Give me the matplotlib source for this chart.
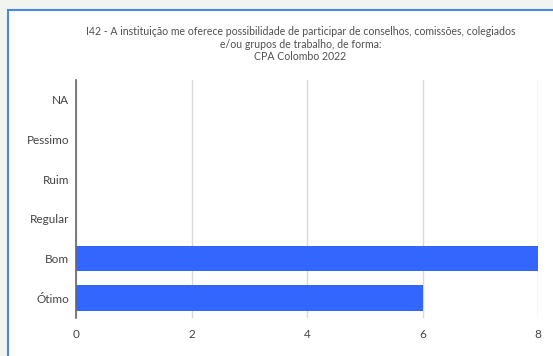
import matplotlib
matplotlib.use("Agg")
import matplotlib.pyplot as plt
from matplotlib.patches import Rectangle

categories = ["NA", "Pessimo", "Ruim", "Regular", "Bom", "Ótimo"]
values = [0, 0, 0, 0, 8, 6]
xticks = [0, 2, 4, 6, 8]
title = ("I42 - A instituição me oferece possibilidade de participar de conselhos, comissões, colegiados\n"
         "e/ou grupos de trabalho, de forma:\nCPA Colombo 2022")

plt.rcParams['font.family'] = ['Lato', 'DejaVu Sans']
W, H = 553, 356
fig = plt.figure(figsize=(W/100, H/100), dpi=100, facecolor="#f2f5ef")

# white chart card with blue border
card = Rectangle((8/W, -0.1), 1.2, 1 - 10/H + 0.1, transform=fig.transFigure,
                 facecolor="white", edgecolor="#4a86e8", linewidth=1.5, zorder=-5)
fig.patches.append(card)

ax = fig.add_axes([76/W, 1 - 318/H, (538-76)/W, (318-80)/H])
ax.set_zorder(2)
ax.set_facecolor("none")
y = list(range(len(categories)))[::-1]
ax.barh(y, values, height=0.65, color="#3366ff", zorder=3)
ax.set_yticks(y)
ax.set_yticklabels(categories)
ax.set_ylim(-0.5, len(categories) - 0.5)
ax.set_xlim(0, 8)
ax.set_xticks(xticks)
ax.grid(axis="x", color="#d9d9d9", linewidth=1, zorder=0)
for s in ["top", "right", "bottom"]:
    ax.spines[s].set_visible(False)
ax.spines["left"].set_color("#666666")
ax.spines["left"].set_linewidth(1.2)
ax.spines["left"].set_zorder(4)
ax.tick_params(axis="both", length=0, labelsize=8.5, colors="#444444")
ax.tick_params(axis="x", pad=8)
ax.tick_params(axis="y", pad=5)

fig.text(0.5 + 24/W, 1 - 44/H, title, ha="center", va="center", fontsize=7.6,
         color="#505050", linespacing=1.2)

fig.savefig("out.png", dpi=100, facecolor=fig.get_facecolor())
